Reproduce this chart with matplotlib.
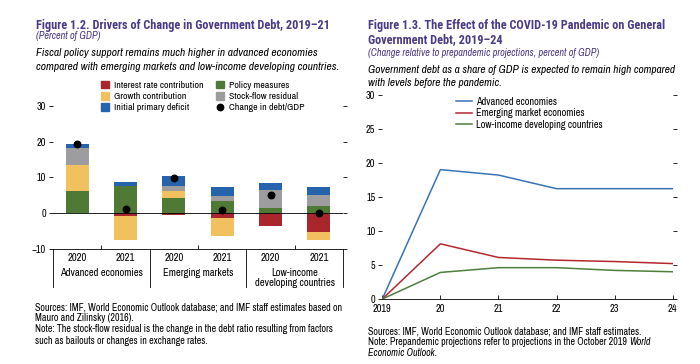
import numpy as np
import matplotlib
matplotlib.use("Agg")
import matplotlib.pyplot as plt
from matplotlib.lines import Line2D
from matplotlib.patches import Patch
import matplotlib.transforms as mtransforms

plt.rcParams['font.family'] = ['Archivo Narrow', 'DejaVu Sans']
TITLE_FONT = ['Roboto Condensed', 'PT Sans Narrow', 'Fira Sans Condensed',
              'IBM Plex Sans Condensed', 'Archivo Narrow', 'DejaVu Sans']

# 数据：图1.2 债务变化驱动因素
years = ["2020", "2021", "2020", "2021", "2020", "2021"]
groups = ["Advanced economies", "Emerging markets", "Low-income\ndeveloping countries"]
interest = [0.0, -0.9, -0.6, -1.4, -3.7, -5.2]
growth = [7.1, -6.6, 1.9, -5.1, 0.0, -2.3]
policy = [6.3, 7.5, 4.2, 3.5, 1.4, 1.9]
residual = [4.9, 0.2, 1.6, 1.4, 5.0, 3.2]
primary = [0.9, 1.0, 2.6, 2.5, 2.1, 2.3]
change = [19.4, 1.2, 9.8, 0.9, 5.0, 0.0]

# 数据：图1.3 新冠疫情对政府债务的影响
yrs = [2019, 2020, 2021, 2022, 2023, 2024]
yr_labels = ["2019", "20", "21", "22", "23", "24"]
adv = [0.0, 19.0, 18.2, 16.2, 16.2, 16.2]
emk = [0.0, 8.1, 6.1, 5.7, 5.5, 5.2]
lidc = [0.0, 3.9, 4.6, 4.6, 4.2, 4.0]

c_red = '#a8262c'
c_yel = '#f0c15e'
c_grn = '#4f7a35'
c_gry = '#9d9d9f'
c_blu = '#2563ad'
purple = '#4a3a87'

fig = plt.figure(figsize=(7, 3.64), dpi=100)

def px(x, y):
    return x / 700, 1 - y / 364

# 标题文字
fig.text(*px(36, 25), "Figure 1.2. Drivers of Change in Government Debt, 2019–21",
         fontsize=8.8, fontweight='bold', color=purple, va='center', family=TITLE_FONT)
fig.text(*px(36, 36), "(Percent of GDP)", fontsize=7.4, style='italic', color=purple, va='center')
fig.text(*px(36, 53), "Fiscal policy support remains much higher in advanced economies",
         fontsize=8.3, style='italic', va='center')
fig.text(*px(36, 67), "compared with emerging markets and low-income developing countries.",
         fontsize=8.3, style='italic', va='center')

fig.text(*px(368, 25), "Figure 1.3. The Effect of the COVID-19 Pandemic on General",
         fontsize=8.8, fontweight='bold', color=purple, va='center', family=TITLE_FONT)
fig.text(*px(368, 40), "Government Debt, 2019–24",
         fontsize=8.8, fontweight='bold', color=purple, va='center', family=TITLE_FONT)
fig.text(*px(368, 53), "(Change relative to prepandemic projections, percent of GDP)",
         fontsize=7.4, style='italic', color=purple, va='center')
fig.text(*px(368, 70), "Government debt as a share of GDP is expected to remain high compared",
         fontsize=8.2, style='italic', va='center')
fig.text(*px(368, 83), "with levels before the pandemic.",
         fontsize=8.2, style='italic', va='center')

# 左图
ax = fig.add_axes([53 / 700, (364 - 249) / 364, 290 / 700, 143.3 / 364])
x = np.arange(len(years))
w = 0.47
pos_base = np.zeros(len(x))
neg_base = np.zeros(len(x))
for vals, col in [(policy, c_grn), (interest, c_red), (growth, c_yel),
                  (residual, c_gry), (primary, c_blu)]:
    v = np.array(vals)
    b = np.where(v >= 0, pos_base, neg_base)
    ax.bar(x, v, w, bottom=b, color=col, linewidth=0, zorder=2)
    pos_base = pos_base + np.where(v >= 0, v, 0)
    neg_base = neg_base + np.where(v < 0, v, 0)
ax.scatter(x, change, s=22, color='black', zorder=4)
ax.axhline(0, color='black', lw=0.6, zorder=3)
ax.set_xlim(-0.5, 5.5)
ax.set_ylim(-10, 30)
ax.set_yticks([-10, 0, 10, 20, 30])
ax.set_yticklabels(["−10", "0", "10", "20", "30"])
for s in ['top', 'right', 'left']:
    ax.spines[s].set_visible(False)
ax.spines['bottom'].set_linewidth(0.6)
ax.tick_params(axis='y', which='both', labelsize=7.4, length=3, width=0.6,
               direction='out', right=True, pad=2)
ax.set_xticks([0.5, 2.5, 4.5])
ax.set_xticklabels([])
ax.tick_params(axis='x', direction='in', length=3, width=0.6)
trans = mtransforms.blended_transform_factory(ax.transData, ax.transAxes)
for i, yl in enumerate(years):
    ax.text(i, -0.065, yl, transform=trans, ha='center', va='center', fontsize=7.6)
for g, name in enumerate(groups):
    ax.text(2 * g + 0.5, -0.17 if g < 2 else -0.205, name, transform=trans,
            ha='center', va='center', fontsize=7.6, linespacing=1.0)
for xs in [-0.5, 1.5, 3.5, 5.5]:
    ax.plot([xs, xs], [0, -0.265], transform=trans, color='black', lw=0.6, clip_on=False)

handles = [Patch(color=c_red), Patch(color=c_yel), Patch(color=c_blu),
           Patch(color=c_grn), Patch(color=c_gry),
           Line2D([], [], marker='o', color='black', ls='none', markersize=4.6)]
labels = ["Interest rate contribution", "Growth contribution", "Initial primary deficit",
          "Policy measures", "Stock-flow residual", "Change in debt/GDP"]
fig.legend(handles, labels, ncol=2, loc='upper left', bbox_to_anchor=px(96, 76),
           frameon=False, fontsize=7.1, handlelength=0.8, handleheight=0.8,
           handletextpad=0.5, labelspacing=0.2, columnspacing=1.3, borderpad=0)

# 右图
ax2 = fig.add_axes([382.3 / 700, (364 - 299) / 364, 290.4 / 700, 204.3 / 364])
ax2.plot(yrs, adv, color='#3a72b6', lw=1.1, label="Advanced economies")
ax2.plot(yrs, emk, color='#b3282e', lw=1.1, label="Emerging market economies")
ax2.plot(yrs, lidc, color='#4e7d3d', lw=1.1, label="Low-income developing countries")
ax2.set_xlim(2019, 2024)
ax2.set_ylim(0, 30)
ax2.set_xticks(yrs)
ax2.set_xticklabels(yr_labels)
ax2.set_yticks([0, 5, 10, 15, 20, 25, 30])
for s in ['top', 'right', 'left']:
    ax2.spines[s].set_visible(False)
ax2.spines['bottom'].set_linewidth(0.6)
ax2.tick_params(axis='y', labelsize=7.4, length=3, width=0.6, direction='out',
                right=True, pad=2)
ax2.tick_params(axis='x', labelsize=7.4, length=3, width=0.6, direction='in', pad=3.5)
ax2.legend(loc='upper left', bbox_to_anchor=(0.237, 1.015), frameon=False, fontsize=7.4,
           handlelength=1.5, handletextpad=0.4, labelspacing=0.15, borderpad=0)

# 注释
fs_note = 7.2
note_l = ["Sources: IMF, World Economic Outlook database; and IMF staff estimates based on",
          "Mauro and Zilinsky (2016).",
          "Note: The stock-flow residual is the change in the debt ratio resulting from factors",
          "such as bailouts or changes in exchange rates."]
for k, t in enumerate(note_l):
    fig.text(*px(35, 307 + 11.2 * k), t, fontsize=fs_note, va='center')
fig.text(*px(368, 331), "Sources: IMF, World Economic Outlook database; and IMF staff estimates.",
         fontsize=fs_note, va='center')
t_note = fig.text(*px(368, 342), "Note: Prepandemic projections refer to projections in the October 2019",
                  fontsize=fs_note, va='center')
fig.canvas.draw()
bb = t_note.get_window_extent()
fig.text((bb.x1 + 2.5) / 700, px(0, 342)[1], "World", fontsize=fs_note, style='italic', va='center')
fig.text(*px(368, 353), "Economic Outlook.", fontsize=fs_note, style='italic', va='center')

fig.savefig("out.png", dpi=100)
